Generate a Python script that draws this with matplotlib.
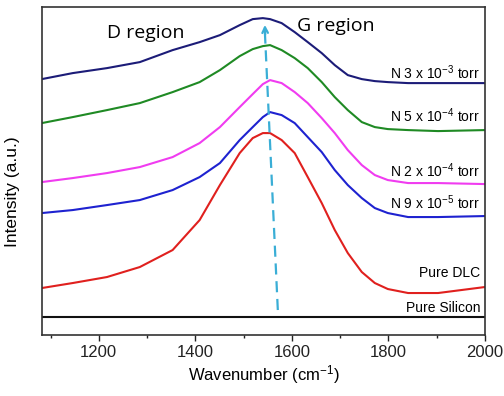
import numpy as np
import matplotlib
matplotlib.use('Agg')
import matplotlib.pyplot as plt
from matplotlib.ticker import MultipleLocator, NullLocator

plt.rcParams['font.family'] = ['Liberation Sans', 'DejaVu Sans']
plt.rcParams['mathtext.fontset'] = 'custom'
plt.rcParams['mathtext.rm'] = 'Liberation Sans'
plt.rcParams['mathtext.it'] = 'Liberation Sans'

#%%
# data (intensity in a.u.)

wavenumber = [1082, 1146, 1217, 1285, 1353, 1409, 1451, 1492, 1519, 1540, 1555, 1579,
              1606, 1633, 1662, 1689, 1716, 1745, 1772, 1799, 1841, 1903, 2000]

n_3e3 = [2.56, 2.62, 2.67, 2.73, 2.85, 2.93, 3.00, 3.10, 3.16, 3.17, 3.16, 3.12,
         3.03, 2.93, 2.82, 2.70, 2.60, 2.56, 2.54, 2.53, 2.52, 2.52, 2.52]
n_5e4 = [2.12, 2.18, 2.25, 2.32, 2.43, 2.53, 2.65, 2.79, 2.86, 2.89, 2.90, 2.85,
         2.77, 2.67, 2.53, 2.38, 2.25, 2.13, 2.08, 2.06, 2.05, 2.04, 2.05]
n_2e4 = [1.53, 1.57, 1.62, 1.68, 1.78, 1.92, 2.08, 2.28, 2.41, 2.51, 2.55, 2.52,
         2.43, 2.32, 2.17, 2.02, 1.85, 1.70, 1.60, 1.55, 1.52, 1.52, 1.51]
n_9e5 = [1.22, 1.25, 1.30, 1.35, 1.45, 1.58, 1.72, 1.95, 2.08, 2.18, 2.23, 2.20,
         2.12, 1.98, 1.83, 1.65, 1.50, 1.37, 1.27, 1.22, 1.18, 1.18, 1.19]
pure_dlc = [0.47, 0.52, 0.58, 0.68, 0.85, 1.15, 1.50, 1.82, 1.97, 2.02, 2.02, 1.95,
            1.82, 1.58, 1.32, 1.05, 0.82, 0.63, 0.52, 0.46, 0.42, 0.42, 0.48]
pure_si = [0.18] * len(wavenumber)

labels = ['N 3 x 10$^{-3}$ torr', 'N 5 x 10$^{-4}$ torr', 'N 2 x 10$^{-4}$ torr',
          'N 9 x 10$^{-5}$ torr', 'Pure DLC', 'Pure Silicon']

# G peak shift arrow (wavenumber, intensity)
arrow_x = [1571, 1544]
arrow_y = [0.25, 3.13]

#%%

fig = plt.figure(figsize=(5.04, 3.96), dpi=100)
ax = fig.add_axes([0.083, 0.154, 0.879, 0.828])

series = [n_3e3, n_5e4, n_2e4, n_9e5, pure_dlc, pure_si]
colors = ['#1c1c78', '#1f8a24', '#f03cf0', '#1e22d0', '#e0201e', '#111111']
label_y = [2.62, 2.19, 1.64, 1.32, 0.62, 0.27]

for s, c in zip(series, colors):
    ax.plot(wavenumber, s, color=c, lw=1.5)

for lab, y in zip(labels, label_y):
    ax.text(1990, y, lab, ha='right', va='center', fontsize=10)

# dashed arrow
ax.plot(arrow_x, [arrow_y[0], arrow_y[1] - 0.08], ls=(0, (5, 3)), color='#3aaed6', lw=1.6)
ax.annotate('', xy=(arrow_x[1], arrow_y[1]), xytext=(arrow_x[1] + 1, arrow_y[1] - 0.15),
            arrowprops=dict(arrowstyle='->', color='#3aaed6', lw=1.6))

ax.text(1217, 2.97, 'D region', fontsize=14, family=['Open Sans', 'DejaVu Sans'])
ax.text(1610, 3.04, 'G region', fontsize=14, family=['Open Sans', 'DejaVu Sans'])

ax.set_xlim(1082, 2000)
ax.set_ylim(0, 3.28)
ax.xaxis.set_major_locator(MultipleLocator(200))
ax.xaxis.set_minor_locator(MultipleLocator(100))
ax.yaxis.set_major_locator(NullLocator())
ax.tick_params(axis='x', which='major', direction='out', length=4, width=1, labelsize=12, colors='#222222')
ax.tick_params(axis='x', which='minor', direction='out', length=2.5, width=1, colors='#222222')
for sp in ax.spines.values():
    sp.set_linewidth(1.2)
    sp.set_color('#333333')

ax.set_xlabel('Wavenumber (cm$^{-1}$)', fontsize=12, labelpad=2)
ax.set_ylabel('Intensity (a.u.)', fontsize=12.5)
ax.yaxis.set_label_coords(-0.05, 0.436)

fig.savefig('out.png', dpi=100)
